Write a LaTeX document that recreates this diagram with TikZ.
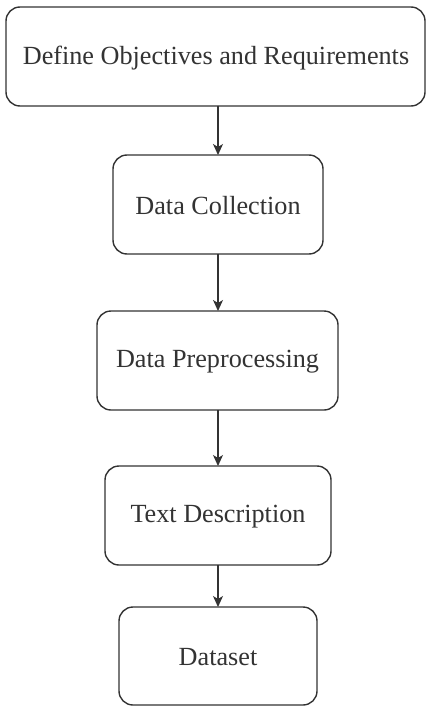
\documentclass[tikz,border=0pt]{standalone}
\usepackage{fontspec}
\setmainfont{Liberation Serif}
\usetikzlibrary{arrows.meta}
\begin{document}
\begin{tikzpicture}[x=1pt,y=-1pt,
  box/.style={draw=black!80,line width=1.4pt,rounded corners=14pt,fill=white},
  lbl/.style={font=\fontsize{26.2}{29}\selectfont,text=black!80},
  conn/.style={draw=black!80,line width=1.4pt,-{Stealth[length=11pt,width=10pt,inset=3pt]}}]
\useasboundingbox (0,0) rectangle (426,706);
\draw[box] (6,7) rectangle (425,106);
\node[lbl] (b1) at (216,58) {Define Objectives and Requirements};
\coordinate (b1s) at (218,106);
\draw[box] (113,155) rectangle (323,254);
\node[lbl] (b2) at (218,206) {Data Collection};
\coordinate (b2n) at (218,155);
\coordinate (b2s) at (218,254);
\draw[box] (97,311) rectangle (338,410);
\node[lbl] (b3) at (217.5,362) {Data Preprocessing};
\coordinate (b3n) at (218,311);
\coordinate (b3s) at (218,410);
\draw[box] (105,466) rectangle (331,565);
\node[lbl] (b4) at (218,517) {Text Description};
\coordinate (b4n) at (218,466);
\coordinate (b4s) at (218,565);
\draw[box] (119,607) rectangle (317,705);
\node[lbl] (b5) at (218,657) {Dataset};
\coordinate (b5n) at (218,607);
\draw[conn] (b1s) -- (b2n);
\draw[conn] (b2s) -- (b3n);
\draw[conn] (b3s) -- (b4n);
\draw[conn] (b4s) -- (b5n);
\end{tikzpicture}
\end{document}
